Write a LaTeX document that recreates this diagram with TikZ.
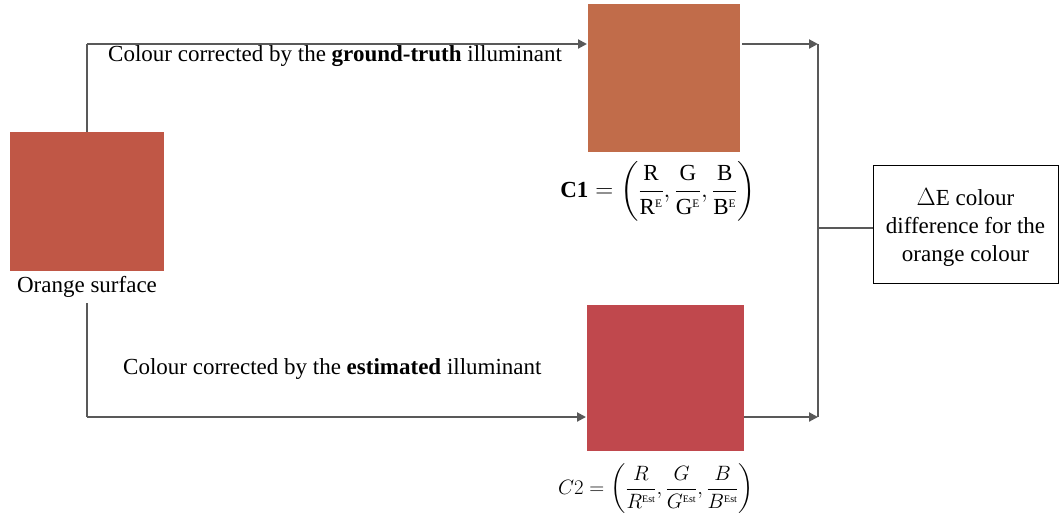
\documentclass[tikz,border=0pt]{standalone}
\usepackage{amsmath}
\usepackage{fontspec}
\setmainfont{Liberation Serif}
\usetikzlibrary{arrows.meta}
\definecolor{surf}{RGB}{192,87,70}
\definecolor{gtcol}{RGB}{193,108,74}
\definecolor{estcol}{RGB}{192,72,77}
\definecolor{linec}{RGB}{89,89,89}
\tikzset{
  conn/.style={draw=linec, line width=2pt},
  arr/.style={conn, -{Triangle[length=9pt,width=9pt]}},
  lbl/.style={font=\fontsize{23}{27}\selectfont, inner sep=0pt},
  formula/.style={inner sep=0pt, font=\fontsize{23}{27}\selectfont},
  resbox/.style={draw=black, line width=1pt, fill=white, minimum width=185pt, minimum height=118pt},
  boxtext/.style={inner sep=0pt, align=center, font=\fontsize{23}{28}\selectfont}
}
\newcommand{\fr}[2]{\dfrac{#1}{#2}}
\newcommand{\sups}[1]{^{\scriptscriptstyle\mathrm{#1}}}
\begin{document}
\begin{tikzpicture}[x=1pt,y=-1pt]
\useasboundingbox (0,0) rectangle (1060,523);
% squares
\fill[surf] (10,132) rectangle (164,271);
\coordinate (srctop) at (87,132);
\coordinate (srcbot) at (87,303);
\fill[gtcol] (588,4) rectangle (740,152);
\fill[estcol] (587,305) rectangle (744,451);
\coordinate (gtin) at (587,44);
\coordinate (gtout) at (742,44);
\coordinate (estin) at (586,417);
\coordinate (estout) at (744,417);
\coordinate (topc) at (87,44);
\coordinate (botc) at (87,417);
\coordinate (jt) at (818,44);
\coordinate (jb) at (818,417);
\coordinate (jm) at (818,228);
% labels
\node[lbl] (srclbl) at (87,287) {Orange surface};
\node[lbl, anchor=west] (gtlbl) at (108,56) {Colour corrected by the \textbf{ground-truth} illuminant};
\node[lbl, anchor=west] (estlbl) at (123,369) {Colour corrected by the \textbf{estimated} illuminant};
\node[formula] (c1) at (658,191) {$\mathbf{C1} = \left(\fr{\mathrm{R}}{\mathrm{R}\sups{E}},\fr{\mathrm{G}}{\mathrm{G}\sups{E}},\fr{\mathrm{B}}{\mathrm{B}\sups{E}}\right)$};
\node[formula, font=\fontsize{20}{24}\selectfont] (c2) at (656,489) {$C2 = \left(\fr{R}{R\sups{Est}},\fr{G}{G\sups{Est}},\fr{B}{B\sups{Est}}\right)$};
\node[resbox] (res) at (965.5,224) {};
\node[boxtext] (restext) at (965.5,227) {$\Delta$E colour\\difference for the\\orange colour};
% connectors
\draw[conn] (srctop) -- (topc);
\draw[arr] (topc) -- (gtin);
\draw[conn] (srcbot) -- (botc);
\draw[arr] (botc) -- (estin);
\draw[arr] (gtout) -- (jt);
\draw[arr] (estout) -- (jb);
\draw[conn] (jt) -- (jb);
\draw[conn] (jm) -- (jm -| res.west);
\end{tikzpicture}
\end{document}
